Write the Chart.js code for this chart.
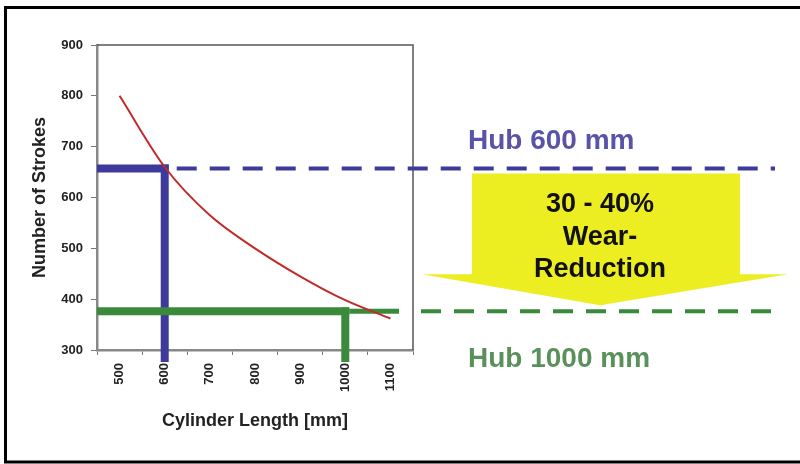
<!DOCTYPE html>
<html lang="en">
<head>
  <meta charset="UTF-8">
  <title>Cylinder Length vs Strokes</title>
  <script src="https://cdn.jsdelivr.net/npm/chart.js"></script>
  <style>
    body {
      margin: 0;
      padding: 0;
      background-color: #ffffff;
    }
    #wrap {
      width: 800px;
      height: 464px;
    }
  </style>
</head>
<body>
  <div id="wrap">
    <canvas id="stroke-chart" width="800" height="464"></canvas>
  </div>

  <script>
    // Data
    const lengths = ['500', '600', '700', '800', '900', '1000', '1100'];
    const strokes = [800, 660, 565, 500, 445, 398, 362];

    // Stroke (Hub) markers
    const hubLengths = ['600', '1000'];
    const hubStrokes = [657, 376];
    const hubLabels = ['Hub 600 mm', 'Hub 1000 mm'];
    const hubColors = ['#3d3a9c', '#3b8a3b'];
    const hubTextColors = ['#5a53a8', '#5a905a'];

    const reductionText = ['30 - 40%', 'Wear-', 'Reduction'];

    const yMin = 300, yMax = 900, yStep = 100;

    const FONT = 'Arial, "Liberation Sans", Helvetica, sans-serif';

    // Draws the hub guides, the arrow and the frame
    const overlay = {
      id: 'overlay',
      beforeDatasetsDraw(chart) {
        const { ctx, chartArea } = chart;
        const xs = chart.scales.x, ys = chart.scales.y;
        ctx.save();

        // top and right frame of the plot
        ctx.strokeStyle = '#555';
        ctx.lineWidth = 1.5;
        ctx.beginPath();
        ctx.moveTo(chartArea.left, chartArea.top);
        ctx.lineTo(chartArea.right, chartArea.top);
        ctx.lineTo(chartArea.right, chartArea.bottom);
        ctx.stroke();

        hubLengths.forEach((len, i) => {
          const px = xs.getPixelForValue(xs.getLabels().indexOf(len));
          const py = ys.getPixelForValue(hubStrokes[i]);
          ctx.strokeStyle = hubColors[i];
          ctx.setLineDash([]);
          ctx.lineCap = 'butt';

          // thick horizontal
          ctx.lineWidth = 8;
          ctx.beginPath();
          ctx.moveTo(chartArea.left, py);
          ctx.lineTo(px + 4, py);
          ctx.stroke();

          // thick vertical, running past the axis
          ctx.beginPath();
          ctx.moveTo(px, py - 4);
          ctx.lineTo(px, chartArea.bottom + 12);
          ctx.stroke();

          // dashed continuation to the right
          let start = px + 12;
          if (i === 1) {
            ctx.lineWidth = 5;
            ctx.beginPath();
            ctx.moveTo(px + 4, py);
            ctx.lineTo(chartArea.right - 14, py);
            ctx.stroke();
            start = chartArea.right + 8;
          }
          ctx.lineWidth = 4;
          ctx.setLineDash([20, 13]);
          ctx.beginPath();
          ctx.moveTo(start, py);
          ctx.lineTo(775, py);
          ctx.stroke();
        });
        ctx.setLineDash([]);

        // yellow arrow between the two hub lines
        const yTop = ys.getPixelForValue(hubStrokes[0]) + 5;
        const yTip = ys.getPixelForValue(hubStrokes[1]) - 6;
        const yShoulder = yTip - 31;
        ctx.fillStyle = '#ecee22';
        ctx.beginPath();
        ctx.moveTo(472, yTop);
        ctx.lineTo(740, yTop);
        ctx.lineTo(740, yShoulder);
        ctx.lineTo(788, yShoulder);
        ctx.lineTo(600, yTip);
        ctx.lineTo(422, yShoulder);
        ctx.lineTo(472, yShoulder);
        ctx.closePath();
        ctx.fill();

        ctx.restore();
      },
      afterDraw(chart) {
        const { ctx } = chart;
        const ys = chart.scales.y;
        ctx.save();

        // arrow text
        ctx.fillStyle = '#111';
        ctx.font = 'bold 27px ' + FONT;
        ctx.textAlign = 'center';
        ctx.textBaseline = 'middle';
        reductionText.forEach((t, i) => {
          ctx.fillText(t, 600, 205 + i * 32.5);
        });

        // hub labels
        ctx.font = 'bold 28px ' + FONT;
        ctx.textAlign = 'left';
        ctx.fillStyle = hubTextColors[0];
        ctx.fillText(hubLabels[0], 468, ys.getPixelForValue(hubStrokes[0]) - 27);
        ctx.fillStyle = hubTextColors[1];
        ctx.fillText(hubLabels[1], 468, ys.getPixelForValue(hubStrokes[1]) + 48);

        // outer border (open on the right)
        ctx.strokeStyle = '#000';
        ctx.lineWidth = 3;
        ctx.strokeRect(5.5, 7.5, 810, 454.5);

        ctx.restore();
      }
    };

    const ctx = document.getElementById('stroke-chart').getContext('2d');
    new Chart(ctx, {
      type: 'line',
      data: {
        labels: lengths,
        datasets: [{
          label: 'Number of Strokes',
          data: strokes,
          borderColor: '#c22a2a',
          borderWidth: 2,
          pointRadius: 0,
          cubicInterpolationMode: 'monotone',
          fill: false
        }]
      },
      options: {
        responsive: false,
        animation: false,
        layout: {
          padding: { left: 5, top: 45, right: 387, bottom: 20 }
        },
        plugins: {
          legend: { display: false },
          tooltip: { enabled: false }
        },
        scales: {
          x: {
            type: 'category',
            offset: true,
            afterFit(scale) { scale.height = 94; },
            grid: {
              drawOnChartArea: false,
              offset: true,
              tickLength: 5,
              color: '#777'
            },
            border: { color: '#888', width: 2.5 },
            ticks: {
              color: '#222',
              font: { family: FONT, size: 13, weight: 'bold' },
              minRotation: 90,
              maxRotation: 90,
              padding: 8
            },
            title: {
              display: true,
              text: 'Cylinder Length [mm]',
              color: '#222',
              font: { family: FONT, size: 18, weight: 'bold' },
              padding: { top: 4, bottom: 12 }
            }
          },
          y: {
            min: yMin,
            max: yMax,
            afterFit(scale) { scale.width = 92; },
            grid: {
              drawOnChartArea: false,
              tickLength: 6,
              color: '#777'
            },
            border: { color: '#888', width: 2.5 },
            ticks: {
              stepSize: yStep,
              color: '#222',
              font: { family: FONT, size: 13, weight: 'bold' },
              padding: 8
            },
            title: {
              display: true,
              text: 'Number of Strokes',
              color: '#222',
              font: { family: FONT, size: 18, weight: 'bold' },
              padding: { top: 24, bottom: 4 }
            }
          }
        }
      },
      plugins: [overlay]
    });
  </script>
</body>
</html>
